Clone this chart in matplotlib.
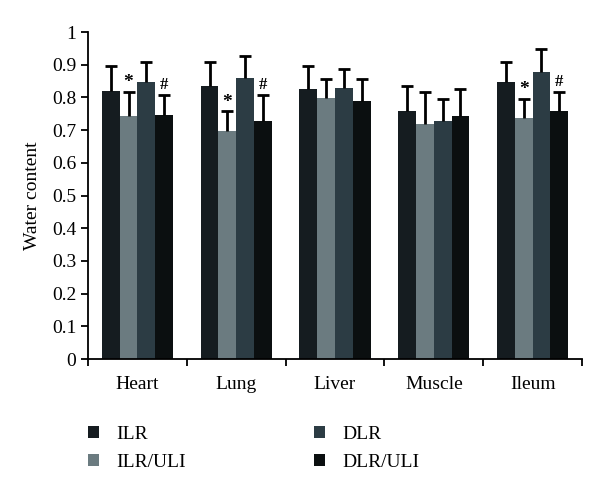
import numpy as np
import matplotlib.pyplot as plt

organs = ["Heart", "Lung", "Liver", "Muscle", "Ileum"]
groups = ["ILR", "ILR/ULI", "DLR", "DLR/ULI"]
ilr = [0.82, 0.836, 0.827, 0.758, 0.846]
ilr_uli = [0.744, 0.697, 0.797, 0.719, 0.736]
dlr = [0.846, 0.858, 0.828, 0.728, 0.877]
dlr_uli = [0.745, 0.729, 0.79, 0.744, 0.758]
ilr_err = [0.077, 0.072, 0.07, 0.077, 0.062]
ilr_uli_err = [0.074, 0.06, 0.059, 0.098, 0.059]
dlr_err = [0.061, 0.069, 0.059, 0.067, 0.071]
dlr_uli_err = [0.063, 0.079, 0.066, 0.082, 0.059]
# significance marks above ILR/ULI (*) and DLR/ULI (#)
star = ["*", "*", "", "", "*"]
hashm = ["#", "#", "", "", "#"]

plt.rcParams['font.family'] = ['Liberation Serif', 'DejaVu Serif']

colors = ["#151c20", "#6b7b80", "#2c3c44", "#0b0f10"]
vals = [ilr, ilr_uli, dlr, dlr_uli]
errs = [ilr_err, ilr_uli_err, dlr_err, dlr_uli_err]

fig = plt.figure(figsize=(6, 4.83), dpi=100)
ax = fig.add_axes([0.1467, 0.2567, 0.8233, 0.677])

x = np.arange(len(organs))
w = 0.18
for i in range(4):
    pos = x + (i - 1.5) * w
    ax.bar(pos, vals[i], w, color=colors[i], label=groups[i], zorder=2)
    eb = ax.errorbar(pos, vals[i], yerr=[np.zeros(len(organs)), errs[i]], fmt="none",
                     ecolor="black", elinewidth=2, capsize=4, capthick=2, zorder=3)
    # keep only the upper cap
    eb[1][0].remove()

for j in range(len(organs)):
    if star[j]:
        top = ilr_uli[j] + ilr_uli_err[j]
        ax.text(x[j] - 0.5 * w, top + 0.003, star[j], ha="center", va="bottom", fontsize=14, fontweight="bold")
    if hashm[j]:
        top = dlr_uli[j] + dlr_uli_err[j]
        ax.text(x[j] + 1.5 * w, top + 0.006, hashm[j], ha="center", va="bottom", fontsize=12, fontweight="bold")

ax.set_xlim(-0.5, len(organs) - 0.5)
ax.set_ylim(0, 1)
ax.set_yticks(np.arange(0, 1.01, 0.1))
ax.set_yticklabels(["0", "0.1", "0.2", "0.3", "0.4", "0.5", "0.6", "0.7", "0.8", "0.9", "1"])
ax.set_xticks(x)
ax.set_xticklabels(organs)
ax.set_xticks(np.arange(-0.5, len(organs)), minor=True)
ax.tick_params(axis="x", which="major", length=0, pad=12, labelsize=14)
ax.tick_params(axis="x", which="minor", length=5, width=1.3, direction="out")
ax.tick_params(axis="y", length=5, width=1.3, labelsize=14)
ax.spines["top"].set_visible(False)
ax.spines["right"].set_visible(False)
ax.spines["left"].set_linewidth(1.3)
ax.spines["bottom"].set_linewidth(1.3)
ax.set_ylabel("Water content", fontsize=14, labelpad=8)

ax.legend(loc="upper left", bbox_to_anchor=(-0.035, -0.15), ncol=2, frameon=False,
          fontsize=14, handlelength=0.55, handleheight=0.55, columnspacing=6.6,
          labelspacing=0.6, handletextpad=0.9)

fig.savefig("out.png", dpi=100)
